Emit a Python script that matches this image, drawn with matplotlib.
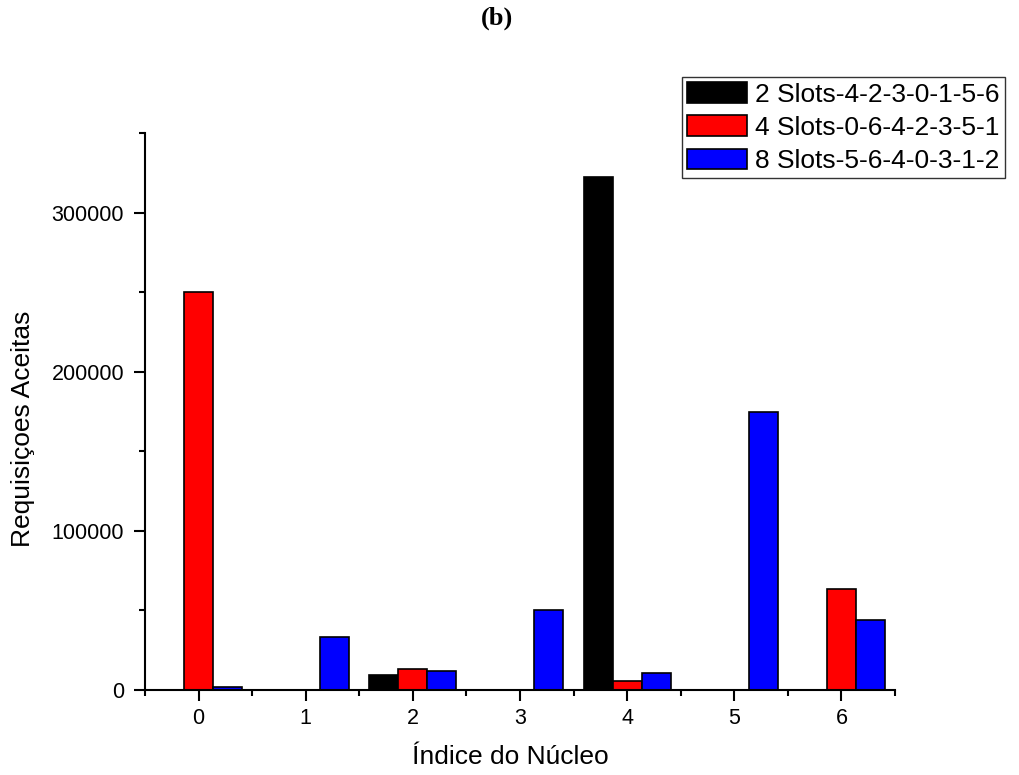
import matplotlib
matplotlib.use("Agg")
import matplotlib.pyplot as plt
import numpy as np
from matplotlib.ticker import MultipleLocator

cores = [0, 1, 2, 3, 4, 5, 6]
series_labels = ["2 Slots-4-2-3-0-1-5-6", "4 Slots-0-6-4-2-3-5-1", "8 Slots-5-6-4-0-3-1-2"]
slots2 = [0, 0, 9600, 0, 322600, 0, 0]
slots4 = [250000, 0, 13200, 0, 5800, 0, 63300]
slots8 = [2000, 33300, 12100, 50300, 10900, 174800, 44200]
colors = ["#000000", "#ff0000", "#0000ff"]

plt.rcParams['font.family'] = ['Liberation Sans', 'DejaVu Sans']

fig = plt.figure(figsize=(10.2, 7.75), dpi=100)
ax = fig.add_axes([145/1020, 1-690/775, 750/1020, (690-133)/775])

x = np.array(cores, dtype=float)
w = 0.27
for i, (vals, lab, c) in enumerate(zip([slots2, slots4, slots8], series_labels, colors)):
    ax.bar(x + (i-1)*w, vals, width=w, color=c, edgecolor="black", linewidth=1.2, label=lab)

ax.set_xlim(-0.5, 6.5)
ax.set_ylim(0, 350000)
ax.set_xticks(cores)
ax.xaxis.set_minor_locator(MultipleLocator(1, offset=0.5))
ax.set_yticks([0, 100000, 200000, 300000])
ax.yaxis.set_minor_locator(MultipleLocator(50000))
ax.spines['top'].set_visible(False)
ax.spines['right'].set_visible(False)
for s in ['left', 'bottom']:
    ax.spines[s].set_linewidth(1.5)
ax.tick_params(which='major', direction='out', length=8, width=1.5, labelsize=15.5)
ax.tick_params(which='minor', direction='out', length=4.5, width=1.5)
ax.tick_params(axis='x', pad=5)
ax.tick_params(axis='y', pad=7)

fig.text(510/1020, 1-757/775, "Índice do Núcleo", ha='center', va='center', fontsize=19)
fig.text(23/1020, 1-429/775, "Requisiçoes Aceitas", ha='center', va='center', fontsize=19,
         rotation=90)

fig.text(497/1020, 1-18/775, "(b)", ha='center', va='center', fontsize=19,
         fontweight='bold', family=['Liberation Serif', 'DejaVu Serif'])

leg = fig.legend(loc='upper left', bbox_to_anchor=(682/1020, 1-77/775), fontsize=19,
                 frameon=True, fancybox=False, edgecolor='black', handlelength=2.27,
                 handleheight=0.83, handletextpad=0.3, borderpad=0.2, labelspacing=0.33,
                 borderaxespad=0)
leg.get_frame().set_linewidth(1.0)

fig.savefig("out.png", dpi=100)
